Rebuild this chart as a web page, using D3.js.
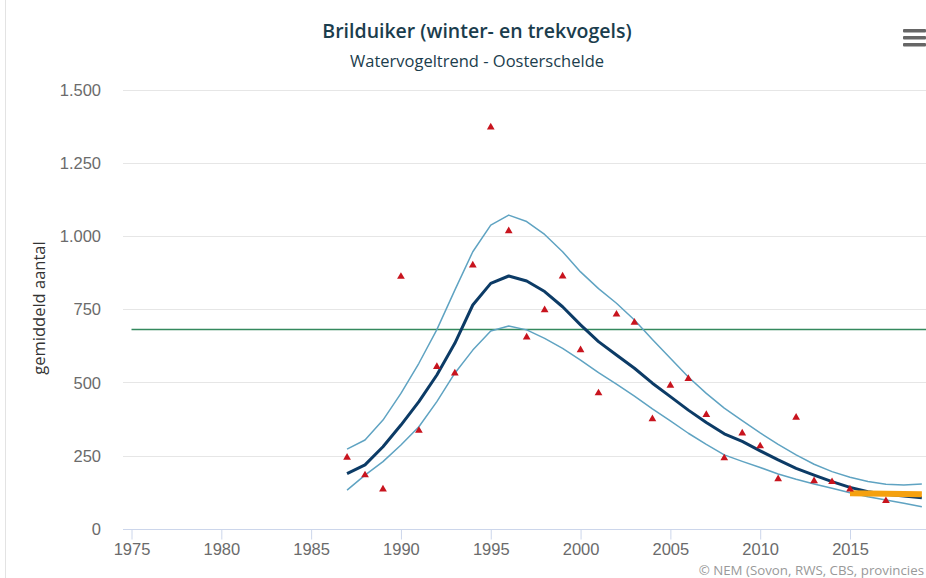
<!DOCTYPE html>
<html>
<head>
<meta charset="utf-8">
<script src="https://cdn.jsdelivr.net/npm/d3@7"></script>
<style>
  body { margin: 0; background: #fff; }
  svg { display: block; font-family: "Open Sans", "Noto Sans", sans-serif; }
  .tick text { fill: #6b6b6b; font-size: 16.5px; }
</style>
</head>
<body>
<svg id="chart" width="926" height="578"></svg>
<script>
// Years of the trend model
const trendYears = [1987, 1988, 1989, 1990, 1991, 1992, 1993, 1994, 1995, 1996, 1997, 1998, 1999, 2000, 2001, 2002, 2003,
  2004, 2005, 2006, 2007, 2008, 2009, 2010, 2011, 2012, 2013, 2014, 2015, 2016, 2017, 2018, 2019];

// Trend (mean) and upper/lower confidence band
const trendValues = [188, 218, 280, 354, 434, 525, 633, 764, 838, 863, 846, 810, 758, 696, 639, 593, 548,
  497, 451, 405, 363, 324, 298, 266, 235, 206, 183, 161, 141, 126, 118, 112, 106];
const upperValues = [272, 303, 371, 462, 565, 680, 815, 946, 1037, 1071, 1049, 1005, 946, 877, 820, 770, 713,
  646, 582, 518, 462, 412, 369, 327, 288, 252, 220, 195, 176, 161, 152, 149, 153];
const lowerValues = [132, 183, 229, 286, 348, 434, 531, 610, 675, 692, 679, 650, 616, 576, 533, 494, 453,
  409, 368, 326, 288, 252, 230, 209, 187, 169, 153, 138, 123, 109, 98, 87, 75];

// Observed counts (red triangles)
const countYears = [1987, 1988, 1989, 1990, 1991, 1992, 1993, 1994, 1995, 1996, 1997, 1998, 1999, 2000, 2001, 2002,
  2003, 2004, 2005, 2006, 2007, 2008, 2009, 2010, 2011, 2012, 2013, 2014, 2015, 2017];
const countValues = [243, 183, 135, 861, 335, 553, 531, 900, 1371, 1017, 654, 747, 862, 610, 463, 732,
  704, 375, 489, 512, 389, 241, 326, 282, 170, 380, 163, 160, 135, 95];

// Reference level (green) and recent short-term trend (orange)
const referenceLevel = 680;
const recentYears = [2015, 2019];
const recentValues = [121, 118];

const yTicks = [0, 250, 500, 750, 1000, 1250, 1500];
const xTicks = [1975, 1980, 1985, 1990, 1995, 2000, 2005, 2010, 2015];

const svg = d3.select("#chart");
const width = 926, height = 578;
const plot = { left: 123, right: 940, top: 89.5, bottom: 528.7 };

const x = d3.scaleLinear()
  .domain([1975, 2015])
  .range([131.5, 850]);

const y = d3.scaleLinear()
  .domain([0, 1500])
  .range([plot.bottom, plot.top]);

// Left border of the chart container
svg.append("line")
  .attr("x1", 5.5).attr("x2", 5.5)
  .attr("y1", 0).attr("y2", height)
  .attr("stroke", "#e3e3e3");

// Gridlines
svg.append("g")
  .selectAll("line")
  .data(yTicks.filter(d => d > 0))
  .join("line")
  .attr("x1", plot.left).attr("x2", plot.right)
  .attr("y1", d => Math.round(y(d)) + 0.5)
  .attr("y2", d => Math.round(y(d)) + 0.5)
  .attr("stroke", "#e6e6e6");

// Y axis labels
svg.append("g")
  .attr("transform", `translate(${plot.left - 22},0)`)
  .call(d3.axisLeft(y).tickValues(yTicks).tickSize(0)
    .tickFormat(d => d3.format(",")(d).replace(/,/g, ".")))
  .call(g => g.select(".domain").remove())
  .call(g => g.selectAll("text").attr("dy", "0.35em").attr("x", 0));

// X axis
svg.append("g")
  .attr("transform", `translate(0,${Math.round(plot.bottom) + 0.5})`)
  .call(d3.axisBottom(x).tickValues(xTicks).tickSize(10).tickPadding(4).tickFormat(d3.format("d")))
  .call(g => g.select(".domain").attr("d", `M${plot.left},0H${plot.right}`).attr("stroke", "#ccd6eb"))
  .call(g => g.selectAll(".tick line").attr("stroke", "#ccd6eb"));

// Reference level
svg.append("line")
  .attr("x1", x(1975)).attr("x2", plot.right)
  .attr("y1", y(referenceLevel)).attr("y2", y(referenceLevel))
  .attr("stroke", "#34895e")
  .attr("stroke-width", 1.5);

const line = d3.line()
  .x(d => x(d[0]))
  .y(d => y(d[1]));

const zip = (a, b) => a.map((v, i) => [v, b[i]]);

svg.append("path")
  .datum(zip(trendYears, upperValues))
  .attr("d", line)
  .attr("fill", "none")
  .attr("stroke", "#5fa3c2")
  .attr("stroke-width", 1.5)
  .attr("stroke-linejoin", "round");

svg.append("path")
  .datum(zip(trendYears, lowerValues))
  .attr("d", line)
  .attr("fill", "none")
  .attr("stroke", "#5fa3c2")
  .attr("stroke-width", 1.5)
  .attr("stroke-linejoin", "round");

svg.append("path")
  .datum(zip(trendYears, trendValues))
  .attr("d", line)
  .attr("fill", "none")
  .attr("stroke", "#0c3b66")
  .attr("stroke-width", 3)
  .attr("stroke-linejoin", "round");

svg.append("path")
  .datum(zip(recentYears, recentValues))
  .attr("d", line)
  .attr("fill", "none")
  .attr("stroke", "#f5a10f")
  .attr("stroke-width", 6);

// Observed counts
svg.append("g")
  .selectAll("path")
  .data(zip(countYears, countValues))
  .join("path")
  .attr("transform", d => `translate(${x(d[0])},${y(d[1])})`)
  .attr("d", d3.symbol(d3.symbolTriangle, 26))
  .attr("fill", "#c8141e");

// Y axis title
svg.append("text")
  .attr("transform", "rotate(-90)")
  .attr("x", -308)
  .attr("y", 45)
  .style("text-anchor", "middle")
  .style("font-size", "16.5px")
  .attr("fill", "#333")
  .text("gemiddeld aantal");

// Title and subtitle
svg.append("text")
  .attr("x", 477)
  .attr("y", 38)
  .style("text-anchor", "middle")
  .style("font-size", "19.5px")
  .style("font-weight", "600")
  .attr("fill", "#1b3d4d")
  .text("Brilduiker (winter- en trekvogels)");

svg.append("text")
  .attr("x", 477)
  .attr("y", 67)
  .style("text-anchor", "middle")
  .style("font-size", "16.5px")
  .style("font-weight", "500")
  .attr("fill", "#1b3d4d")
  .text("Watervogeltrend - Oosterschelde");

// Menu icon
svg.append("g")
  .selectAll("rect")
  .data([0, 1, 2])
  .join("rect")
  .attr("x", 903)
  .attr("y", d => 29 + d * 7)
  .attr("width", 23)
  .attr("height", 3.5)
  .attr("rx", 1)
  .attr("fill", "#666");

// Credits (shown cut at the right edge in the original)
svg.append("text")
  .attr("x", 924)
  .attr("y", 575)
  .style("text-anchor", "end")
  .style("font-size", "13.3px")
  .attr("fill", "#999")
  .text("© NEM (Sovon, RWS, CBS, provincies");
</script>
</body>
</html>
